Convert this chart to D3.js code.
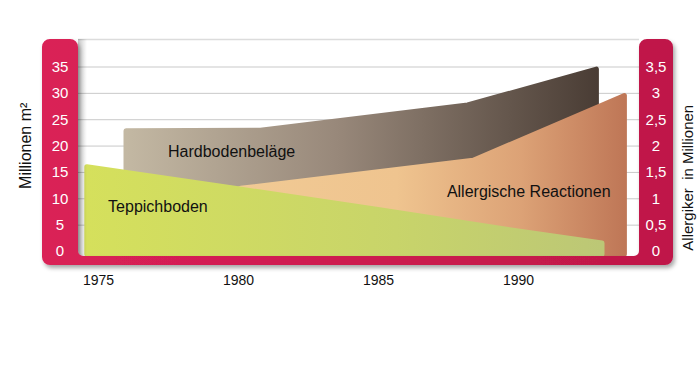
<!DOCTYPE html>
<html><head><meta charset="utf-8">
<script src="https://cdn.jsdelivr.net/npm/d3@7"></script>
<style>
html,body{margin:0;padding:0;background:#fff;}
svg{display:block;font-family:Arial,"Liberation Sans",Helvetica,sans-serif;}
</style></head>
<body>
<svg id="chart" width="700" height="386"></svg>
<script>
// ---- data ----
const xTicks = [1975, 1980, 1985, 1990];
const leftTicks = [0, 5, 10, 15, 20, 25, 30, 35];
const rightTicks = [0, 0.5, 1, 1.5, 2, 2.5, 3, 3.5];
const leftTitle = "Millionen m²";
const rightTitle = "Allergiker  in Millionen";

const hardYears  = [1976.0, 1980.8, 1988.2, 1992.8];
const hardValues = [22.8, 22.9, 27.7, 34.5];           // Mio m²

const allergYears  = [1979.0, 1980.1, 1988.4, 1993.8];
const allergValues = [1.0, 1.19, 1.72, 2.95];          // Mio Allergiker

const teppYears  = [1974.6, 1980, 1985, 1990, 1993.0];
const teppValues = [16.0, 11.8, 7.9, 3.8, 1.5];        // Mio m²

const labels = ["Hardbodenbeläge", "Teppichboden", "Allergische Reactionen"];

// ---- layout ----
const svg = d3.select("#chart");
const frame = {l: 42, r: 673, t: 39, b: 265, barL: 78, barR: 639, inB: 256, rad: 8, inRad: 5};
const base = 254;

const x = d3.scaleLinear().domain([1975, 1990]).range([98, 518]);
const y = d3.scaleLinear().domain([0, 35]).range([251, 66.5]);
const yR = d3.scaleLinear().domain([0, 3.5]).range([251, 66.5]);

const defs = svg.append("defs");
function grad(id, stops) {
  const g = defs.append("linearGradient").attr("id", id)
    .attr("x1", "0").attr("y1", "0").attr("x2", "1").attr("y2", "0");
  stops.forEach(s => g.append("stop").attr("offset", s[0]).attr("stop-color", s[1]));
}
grad("gRed", [[0, "#da2157"], [1, "#bf1848"]]);
grad("gHard", [[0, "#c3b8a3"], [0.45, "#98887a"], [1, "#4a3d35"]]);
grad("gAll", [[0, "#f1cb95"], [0.45, "#efc48f"], [0.75, "#dca276"], [1, "#bf7757"]]);
grad("gTepp", [[0, "#d5e05c"], [0.6, "#c8d46a"], [1, "#bcc776"]]);
grad("gShade", [[0, "rgba(0,0,0,0.22)"], [1, "rgba(0,0,0,0)"]]);

const f = defs.append("filter").attr("id", "shadow").attr("x", "-10%").attr("y", "-10%").attr("width", "130%").attr("height", "130%");
f.append("feDropShadow").attr("dx", 2).attr("dy", 3).attr("stdDeviation", 2.2)
  .attr("flood-color", "#000").attr("flood-opacity", 0.35);

// inner panel
svg.append("rect").attr("x", frame.barL).attr("y", frame.t)
  .attr("width", frame.barR - frame.barL).attr("height", frame.inB - frame.t)
  .attr("fill", "#fff");
svg.append("line").attr("x1", frame.barL).attr("x2", frame.barR)
  .attr("y1", frame.t + 0.5).attr("y2", frame.t + 0.5)
  .attr("stroke", "#dcdcdc").attr("stroke-width", 1.5);

// grid lines
const grid = svg.append("g").attr("transform", `translate(${frame.barL},0)`)
  .call(d3.axisRight(y).tickValues(leftTicks.filter(d => d > 0))
    .tickSize(frame.barR - frame.barL).tickFormat(""));
grid.select(".domain").remove();
grid.selectAll("line").attr("stroke", "#c9c9c9").attr("stroke-width", 1);

// areas
const area = d3.area().x(d => d[0]).y0(base).y1(d => d[1]).curve(d3.curveLinear);
function drawArea(years, vals, scale, fill) {
  const pts = years.map((yr, i) => [x(yr), scale(vals[i])]);
  svg.append("path").datum(pts).attr("d", area)
    .attr("fill", `url(#${fill})`).attr("stroke", `url(#${fill})`)
    .attr("stroke-width", 5).attr("stroke-linejoin", "round");
}
drawArea(hardYears, hardValues, y, "gHard");
drawArea(allergYears, allergValues, yR, "gAll");
drawArea(teppYears, teppValues, y, "gTepp");

// left inner shade
svg.append("rect").attr("x", frame.barL).attr("y", frame.t)
  .attr("width", 9).attr("height", frame.inB - frame.t).attr("fill", "url(#gShade)");

// red frame
const {l, r, t, b, barL, barR, inB, rad, inRad} = frame;
const p = d3.path();
p.moveTo(l + rad, t);
p.lineTo(barL - rad, t);
p.arcTo(barL, t, barL, t + rad, rad);
p.lineTo(barL, inB - inRad);
p.arcTo(barL, inB, barL + inRad, inB, inRad);
p.lineTo(barR - inRad, inB);
p.arcTo(barR, inB, barR, inB - inRad, inRad);
p.lineTo(barR, t + rad);
p.arcTo(barR, t, barR + rad, t, rad);
p.lineTo(r - rad, t);
p.arcTo(r, t, r, t + rad, rad);
p.lineTo(r, b - rad);
p.arcTo(r, b, r - rad, b, rad);
p.lineTo(l + rad, b);
p.arcTo(l, b, l, b - rad, rad);
p.lineTo(l, t + rad);
p.arcTo(l, t, l + rad, t, rad);
p.closePath();
svg.append("path").attr("d", p.toString()).attr("fill", "url(#gRed)").attr("filter", "url(#shadow)");

// axes labels
const deLocale = d3.formatLocale({decimal: ",", thousands: ".", grouping: [3], currency: ["", "€"]});
const leftAxis = svg.append("g").attr("transform", `translate(${(l + barL) / 2},0)`)
  .call(d3.axisLeft(y).tickValues(leftTicks).tickSize(0).tickPadding(0));
const rightAxis = svg.append("g").attr("transform", `translate(${(barR + r) / 2},0)`)
  .call(d3.axisRight(yR).tickValues(rightTicks).tickSize(0).tickPadding(0)
    .tickFormat(deLocale.format("~g")));
[leftAxis, rightAxis].forEach(a => {
  a.select(".domain").remove();
  a.selectAll("text").attr("fill", "#fff").attr("text-anchor", "middle")
    .attr("x", 0).style("font-size", "15px").style("font-family", "Arial, 'Liberation Sans', sans-serif");
});

const xAxis = svg.append("g").attr("transform", `translate(0,${b + 10})`)
  .call(d3.axisBottom(x).tickValues(xTicks).tickSize(0).tickPadding(0).tickFormat(d3.format("d")));
xAxis.select(".domain").remove();
xAxis.selectAll("text").attr("fill", "#111").style("font-size", "14px")
  .style("font-family", "Arial, 'Liberation Sans', sans-serif");

// axis titles
svg.append("text").attr("transform", `translate(25,${(y(35) + y(0)) / 2 - 13}) rotate(-90)`)
  .attr("text-anchor", "middle").attr("dy", "0.35em").attr("fill", "#111")
  .style("font-size", "16px").text(leftTitle);
svg.append("text").attr("transform", `translate(688,${(y(35) + y(0)) / 2 + 19}) rotate(-90)`)
  .attr("text-anchor", "middle").attr("dy", "0.35em").attr("fill", "#111")
  .style("font-size", "15px").style("white-space", "pre").text(rightTitle);

// series labels
const labelPos = [[1977.5, 18.9], [1975.36, 8.5], [1987.46, 11.4]];
labels.forEach((txt, i) => {
  svg.append("text").attr("x", x(labelPos[i][0])).attr("y", y(labelPos[i][1]))
    .attr("dy", "0.35em").attr("fill", "#111").style("font-size", "16px").text(txt);
});
</script>
</body></html>
